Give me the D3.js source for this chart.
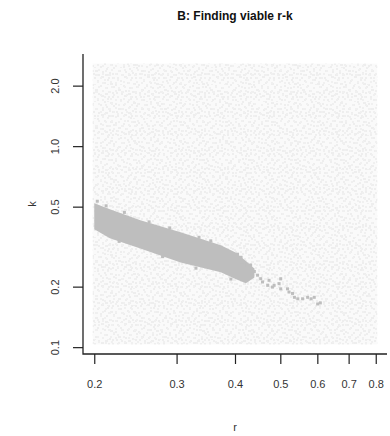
<!DOCTYPE html>
<html>
<head>
<meta charset="utf-8">
<script src="https://cdn.jsdelivr.net/npm/d3@7"></script>
<style>
  body { margin: 0; background: #fff; }
  svg { display: block; font-family: "Liberation Sans", Arial, sans-serif; }
</style>
</head>
<body>
<svg id="chart" width="390" height="436"></svg>
<script>
// Sampled parameter box (log-uniform draws of r and k)
const rSampled = [0.2, 0.8];
const kSampled = [0.105, 2.53];

// Viable r-k band: lower/upper k at each r
const viableR      = [0.200, 0.216, 0.251, 0.306, 0.373, 0.401, 0.422, 0.440];
const viableKUpper = [0.520, 0.485, 0.428, 0.373, 0.321, 0.296, 0.268, 0.246];
const viableKLower = [0.386, 0.348, 0.310, 0.264, 0.236, 0.218, 0.208, 0.222];

// Isolated viable draws around the edges and along the tail of the band
const strayR = [0.203, 0.212, 0.232, 0.262, 0.290, 0.335, 0.355, 0.226, 0.280, 0.330, 0.392,
                0.405, 0.412, 0.418, 0.432, 0.440, 0.447,
                0.415, 0.429, 0.436, 0.454, 0.458, 0.470, 0.473, 0.481, 0.485, 0.497, 0.501, 0.501,
                0.518, 0.522, 0.531, 0.536, 0.545, 0.558, 0.572, 0.582, 0.591, 0.601, 0.609];
const strayK = [0.532, 0.505, 0.468, 0.420, 0.392, 0.352, 0.338, 0.336, 0.282, 0.247, 0.218,
                0.290, 0.280, 0.255, 0.256, 0.238, 0.228,
                0.265, 0.255, 0.241, 0.219, 0.211, 0.203, 0.215, 0.199, 0.203, 0.207, 0.219, 0.195,
                0.195, 0.188, 0.185, 0.177, 0.174, 0.174, 0.177, 0.174, 0.177, 0.164, 0.166];

// Axis ticks
const rTicks = [0.2, 0.3, 0.4, 0.5, 0.6, 0.7, 0.8];
const rTickLabels = ["0.2", "0.3", "0.4", "0.5", "0.6", "0.7", "0.8"];
const kTicks = [0.1, 0.2, 0.5, 1.0, 2.0];
const kTickLabels = ["0.1", "0.2", "0.5", "1.0", "2.0"];

const svg = d3.select("#chart");
const plot = { left: 83, right: 387, top: 54, bottom: 354 };

// R-style 4% padding on a log axis
function padLog([a, b]) {
  const la = Math.log10(a), lb = Math.log10(b), p = (lb - la) * 0.04;
  return [Math.pow(10, la - p), Math.pow(10, lb + p)];
}

const x = d3.scaleLog().domain(padLog(rSampled)).range([plot.left, plot.right]);
const y = d3.scaleLog().domain(padLog(kSampled)).range([plot.bottom, plot.top]);

// Speckle textures for the dense cloud of sampled points (two tiles of different period)
const defs = svg.append("defs");
function speckPattern(id, w, h, specks, colour) {
  const p = defs.append("pattern").attr("id", id)
    .attr("patternUnits", "userSpaceOnUse").attr("width", w).attr("height", h);
  p.selectAll("rect").data(specks).join("rect")
    .attr("x", d => d[0]).attr("y", d => d[1])
    .attr("width", d => d[2] || 2).attr("height", 2).attr("fill", colour);
}
speckPattern("cloudA", 23, 19, [
  [2,1],[9,0,3],[15,3],[20,1],[5,4],[12,6],[18,7,3],[0,8],[8,9],[14,11],[21,10],
  [3,13,3],[10,14],[17,15],[6,17],[13,17,3],[20,16],[1,16],[16,1]
], "#eeeeee");
speckPattern("cloudB", 13, 17, [
  [1,2],[7,1],[11,5],[4,6,3],[9,9],[0,11],[6,13],[11,14],[3,16]
], "#f0f0f0");

const half = 1.5;
const box = {
  x: x(rSampled[0]) - half, y: y(kSampled[1]) - half,
  w: x(rSampled[1]) - x(rSampled[0]) + 2 * half,
  h: y(kSampled[0]) - y(kSampled[1]) + 2 * half
};
["#fafafa", "url(#cloudA)", "url(#cloudB)"].forEach(f =>
  svg.append("rect").attr("x", box.x).attr("y", box.y)
    .attr("width", box.w).attr("height", box.h).attr("fill", f));

// Viable band
const band = d3.area()
  .x((d, i) => x(viableR[i]))
  .y0((d, i) => y(viableKLower[i]))
  .y1((d, i) => y(viableKUpper[i]))
  .curve(d3.curveLinear);
svg.append("path").datum(viableR).attr("d", band).attr("fill", "#bebebe");

svg.append("g").selectAll("rect").data(strayR).join("rect")
  .attr("x", d => x(d) - half).attr("y", (d, i) => y(strayK[i]) - half)
  .attr("width", 2 * half).attr("height", 2 * half).attr("fill", "#bebebe");

// Axes
const ink = "#222";
const xAxis = svg.append("g").attr("transform", `translate(0,${plot.bottom})`)
  .call(d3.axisBottom(x).tickValues(rTicks).tickFormat((d, i) => rTickLabels[i])
        .tickSize(10).tickPadding(16));
xAxis.select(".domain").remove();
xAxis.selectAll("line").attr("stroke", ink).attr("stroke-width", 1.2);
xAxis.selectAll("text").attr("font-size", 11).attr("fill", "#333")
  .attr("font-family", "'Liberation Sans', Arial, sans-serif");

const yAxis = svg.append("g").attr("transform", `translate(${plot.left},0)`)
  .call(d3.axisLeft(y).tickValues(kTicks).tickFormat((d, i) => kTickLabels[i]).tickSize(10));
yAxis.select(".domain").remove();
yAxis.selectAll("line").attr("stroke", ink).attr("stroke-width", 1.2);
yAxis.selectAll("text")
  .attr("x", null).attr("dy", null)
  .attr("transform", "translate(-24,0) rotate(-90)")
  .attr("text-anchor", "middle")
  .attr("font-size", 11).attr("fill", "#333")
  .attr("font-family", "'Liberation Sans', Arial, sans-serif");

// L-shaped box
svg.append("path")
  .attr("d", `M${plot.left},${plot.top}V${plot.bottom}H${plot.right}`)
  .attr("fill", "none").attr("stroke", ink).attr("stroke-width", 1.3);

// Titles
svg.append("text").attr("x", (plot.left + plot.right) / 2).attr("y", 20)
  .attr("text-anchor", "middle").attr("font-size", 12).attr("font-weight", "bold")
  .attr("fill", "#111").text("B: Finding viable r-k");
svg.append("text").attr("x", (plot.left + plot.right) / 2).attr("y", 431)
  .attr("text-anchor", "middle").attr("font-size", 11).attr("fill", "#333").text("r");
svg.append("text").attr("transform", `translate(36,${(plot.top + plot.bottom) / 2}) rotate(-90)`)
  .attr("text-anchor", "middle").attr("font-size", 11).attr("fill", "#333").text("k");
</script>
</body>
</html>
